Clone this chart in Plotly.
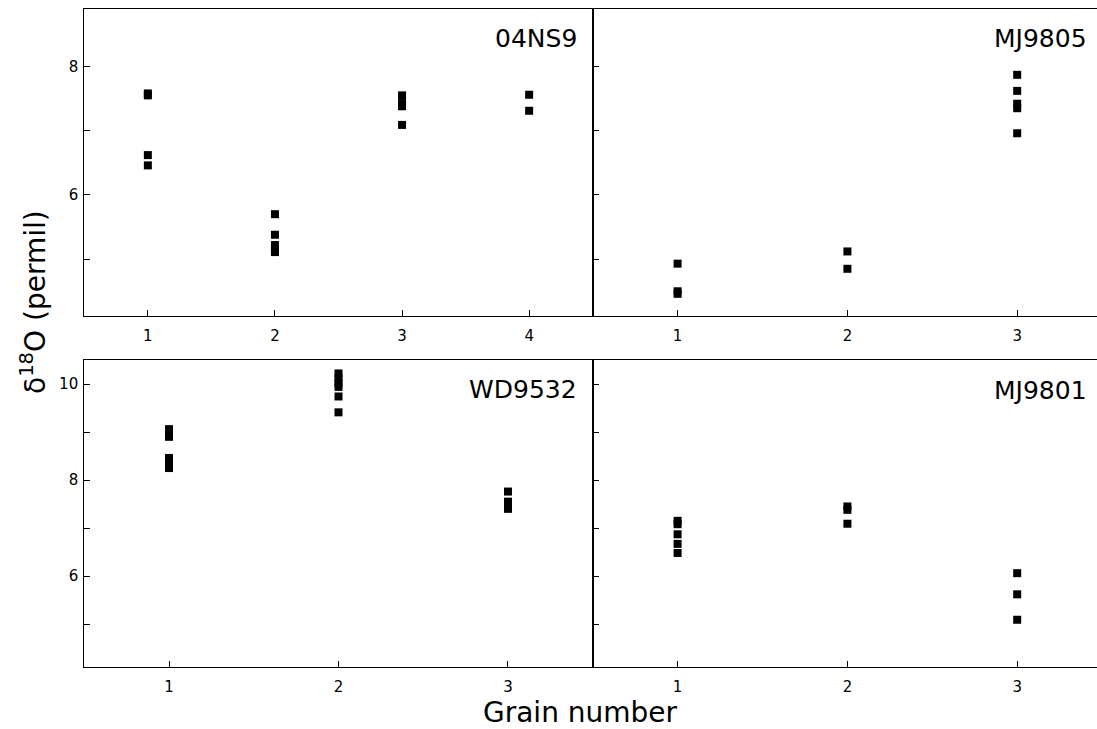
import plotly.graph_objects as go

# ---- data ----
grain_04NS9 = [1, 1, 1, 1, 2, 2, 2, 2, 2, 3, 3, 3, 3, 4, 4]
d18O_04NS9 = [7.58, 7.55, 6.62, 6.46, 5.70, 5.38, 5.22, 5.15, 5.11, 7.55, 7.43, 7.38, 7.09, 7.56, 7.31]

grain_MJ9805 = [1, 1, 1, 2, 2, 3, 3, 3, 3, 3]
d18O_MJ9805 = [4.93, 4.50, 4.46, 5.12, 4.85, 7.87, 7.62, 7.42, 7.35, 6.96]

grain_WD9532 = [1, 1, 1, 1, 1, 2, 2, 2, 2, 2, 2, 3, 3, 3, 3]
d18O_WD9532 = [9.06, 8.90, 8.46, 8.38, 8.25, 10.22, 10.12, 10.02, 9.94, 9.74, 9.41, 7.76, 7.55, 7.48, 7.40]

grain_MJ9801 = [1, 1, 1, 1, 1, 2, 2, 2, 3, 3, 3]
d18O_MJ9801 = [7.15, 7.08, 6.87, 6.67, 6.48, 7.45, 7.38, 7.09, 6.06, 5.62, 5.09]

top_major = [6, 8]
top_minor = [5, 7]
bottom_major = [6, 8, 10]
bottom_minor = [5, 7, 9]

panels = [
    ("04NS9", grain_04NS9, d18O_04NS9, "x", "y"),
    ("MJ9805", grain_MJ9805, d18O_MJ9805, "x2", "y2"),
    ("WD9532", grain_WD9532, d18O_WD9532, "x3", "y3"),
    ("MJ9801", grain_MJ9801, d18O_MJ9801, "x4", "y4"),
]

W, H = 1097, 729
FONT = "DejaVu Sans"

fig = go.Figure()
for name, gx, gy, xa, ya in panels:
    fig.add_trace(go.Scatter(
        x=gx, y=gy, xaxis=xa, yaxis=ya, mode="markers", name=name,
        marker=dict(symbol="square", size=8, color="black", line=dict(width=0)),
        showlegend=False, cliponaxis=False,
    ))

xl = [84.3 / W, 592.7 / W]
xr = [592.7 / W, 1.0]
yt = [1 - 316 / H, 1 - 9.3 / H]
yb = [1 - 667.3 / H, 1 - 360 / H]

common = dict(showline=True, linecolor="black", linewidth=1.2, ticks="inside",
              ticklen=6, tickwidth=1, tickcolor="black", showgrid=False,
              zeroline=False, tickfont=dict(family=FONT, size=15, color="black"))

def xaxis(domain, rng, n, anchor):
    return dict(common, domain=domain, range=rng, anchor=anchor, mirror=True,
                tickvals=list(range(1, n + 1)), ticktext=[str(i) for i in range(1, n + 1)],
                ticklabelstandoff=6)

def yaxis(domain, rng, major, minor, anchor, labels, mirror):
    return dict(common, domain=domain, range=rng, anchor=anchor, mirror=mirror,
                tickvals=major, ticktext=[str(v) for v in major],
                minor=dict(ticks="inside", ticklen=6, tickwidth=1, tickcolor="black",
                           tickvals=minor, showgrid=False),
                showticklabels=labels, ticklabelstandoff=2)

fig.update_layout(
    width=W, height=H, margin=dict(l=0, r=0, t=0, b=0),
    paper_bgcolor="white", plot_bgcolor="white",
    xaxis=xaxis(xl, [0.5, 4.5], 4, "y"),
    yaxis=yaxis(yt, [4.115, 8.89], top_major, top_minor, "x", True, True),
    xaxis2=xaxis(xr, [0.5, 3.47], 3, "y2"),
    yaxis2=yaxis(yt, [4.115, 8.89], top_major, top_minor, "x2", False, False),
    xaxis3=xaxis(xl, [0.5, 3.5], 3, "y3"),
    yaxis3=yaxis(yb, [4.1, 10.5], bottom_major, bottom_minor, "x3", True, True),
    xaxis4=xaxis(xr, [0.5, 3.47], 3, "y4"),
    yaxis4=yaxis(yb, [4.1, 10.5], bottom_major, bottom_minor, "x4", False, False),
)

label_pos = {
    "04NS9": (579 / W, 1 - 38 / H),
    "MJ9805": (1089 / W, 1 - 38 / H),
    "WD9532": (579 / W, 1 - 389 / H),
    "MJ9801": (1089 / W, 1 - 390 / H),
}
for name, (px, py) in label_pos.items():
    fig.add_annotation(text=name, x=px, y=py, xref="paper", yref="paper",
                       xanchor="right", yanchor="middle", showarrow=False,
                       font=dict(family=FONT, size=25, color="black"))

fig.add_annotation(text="Grain number", x=580.5 / W, y=1 - 712 / H, xref="paper", yref="paper",
                   xanchor="center", yanchor="middle", showarrow=False,
                   font=dict(family=FONT, size=28, color="black"))
fig.add_annotation(text="δ<sup>18</sup>O (permil)", x=33 / W, y=1 - 302 / H, xref="paper", yref="paper",
                   xanchor="center", yanchor="middle", showarrow=False, textangle=-90,
                   font=dict(family=FONT, size=28, color="black"))

fig.write_html("out.html", config={"displayModeBar": False},
               post_script="document.body.style.margin='0';document.body.style.overflow='hidden';")
